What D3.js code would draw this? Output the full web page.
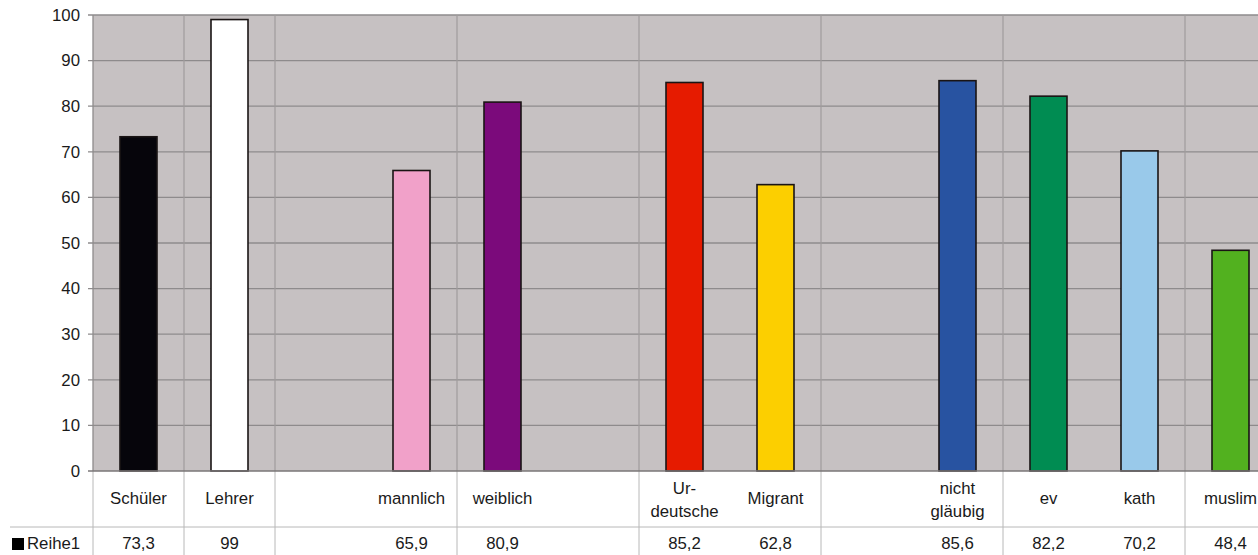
<!DOCTYPE html>
<html>
<head>
<meta charset="utf-8">
<script src="https://cdn.jsdelivr.net/npm/d3@7"></script>
<style>
html,body{margin:0;padding:0;background:#fff;overflow:hidden;}
svg{display:block;font-family:"Liberation Sans",Arial,sans-serif;}
</style>
</head>
<body>
<svg id="chart" width="1258" height="555"></svg>
<script>
// ---- data ----
const categories = ["Schüler","Lehrer","gap1","mannlich","weiblich","gap2","Ur-deutsche","Migrant","gap3","nicht gläubig","ev","kath","muslim"];
const labelLines = [["Schüler"],["Lehrer"],[],["mannlich"],["weiblich"],[],["Ur-","deutsche"],["Migrant"],[],["nicht","gläubig"],["ev"],["kath"],["muslim"]];
const values = [73.3, 99, null, 65.9, 80.9, null, 85.2, 62.8, null, 85.6, 82.2, 70.2, 48.4];
const valueLabels = ["73,3","99","","65,9","80,9","","85,2","62,8","","85,6","82,2","70,2","48,4"];
const barColors = ["#06050b","#ffffff",null,"#f1a1c9","#7b0a7b",null,"#e61b00","#fccf00",null,"#2853a1","#008c52","#99c9ea","#52b11f"];
const dividerIndex = [0, 1, 2, 4, 6, 8, 10, 12]; // category boundaries carrying vertical lines
const yTicks = [0,10,20,30,40,50,60,70,80,90,100];
const seriesName = "Reihe1";

// ---- layout ----
const svg = d3.select("#chart");
const pLeft = 93, pRight = 93 + 13 * 91, pTop = 15, pBottom = 471;
const tableMid = 527, tableBottom = 555;
const fs = 16.8, tc = "#1a1a1a";

const x = d3.scaleBand().domain(categories).range([pLeft, pRight]).paddingInner(0).paddingOuter(0);
const y = d3.scaleLinear().domain([0, 100]).range([pBottom, pTop]);
const barW = 37;

// plot background
svg.append("rect").attr("x", pLeft).attr("y", pTop).attr("width", pRight - pLeft).attr("height", pBottom - pTop).attr("fill", "#c6c1c2");

// horizontal gridlines
svg.append("g").selectAll("line").data(yTicks.filter(d => d > 0)).join("line")
  .attr("x1", pLeft - 5).attr("x2", pRight).attr("y1", d => y(d)).attr("y2", d => y(d))
  .attr("stroke", "#8e8b8c").attr("stroke-width", 1.3);

// vertical gridlines + table dividers
const bx = i => i < categories.length ? x(categories[i]) : pRight;
svg.append("g").selectAll("line").data(dividerIndex).join("line")
  .attr("x1", d => bx(d)).attr("x2", d => bx(d)).attr("y1", pTop).attr("y2", pBottom)
  .attr("stroke", d => d === 0 ? "#8e8b8c" : "#a09c9d").attr("stroke-width", d => d === 0 ? 1.3 : 1.2);
svg.append("g").selectAll("line").data(dividerIndex).join("line")
  .attr("x1", d => bx(d)).attr("x2", d => bx(d)).attr("y1", pBottom).attr("y2", tableBottom)
  .attr("stroke", "#b8b8b8").attr("stroke-width", 1);

// table horizontal line
svg.append("line").attr("x1", 10).attr("x2", 1258).attr("y1", tableMid).attr("y2", tableMid)
  .attr("stroke", "#b8b8b8").attr("stroke-width", 1);

// bars
const data = categories.map((c, i) => ({c, v: values[i], col: barColors[i]})).filter(d => d.v != null);
svg.append("g").selectAll("rect").data(data).join("rect")
  .attr("x", d => x(d.c) + x.bandwidth() / 2 - barW / 2)
  .attr("width", barW)
  .attr("y", d => y(d.v))
  .attr("height", d => y(0) - y(d.v))
  .attr("fill", d => d.col)
  .attr("stroke", "#1a1414").attr("stroke-width", 1.6);

// x axis line at 0
svg.append("line").attr("x1", pLeft - 5).attr("x2", pRight).attr("y1", pBottom).attr("y2", pBottom)
  .attr("stroke", "#7a7677").attr("stroke-width", 1.5);

// y axis labels
const yAxis = d3.axisLeft(y).tickValues(yTicks).tickSize(0).tickPadding(13);
const ya = svg.append("g").attr("transform", `translate(${pLeft},0)`).call(yAxis);
ya.select(".domain").remove();
ya.selectAll("text").attr("font-size", fs).attr("fill", tc).attr("font-family", "Liberation Sans, Arial, sans-serif");

// category labels in table
const lab = svg.append("g");
categories.forEach((c, i) => {
  const lines = labelLines[i];
  const cx = x(c) + x.bandwidth() / 2;
  if (lines.length === 1) {
    lab.append("text").attr("x", cx).attr("y", 504).attr("text-anchor", "middle")
      .attr("font-size", fs).attr("fill", tc).text(lines[0]);
  } else if (lines.length === 2) {
    lines.forEach((t, k) => lab.append("text").attr("x", cx).attr("y", 494 + k * 23).attr("text-anchor", "middle")
      .attr("font-size", fs).attr("fill", tc).text(t));
  }
  if (valueLabels[i]) {
    lab.append("text").attr("x", cx).attr("y", 549).attr("text-anchor", "middle")
      .attr("font-size", fs).attr("fill", tc).text(valueLabels[i]);
  }
});

// legend key
svg.append("rect").attr("x", 12).attr("y", 538).attr("width", 12).attr("height", 12).attr("fill", "#000");
svg.append("text").attr("x", 27).attr("y", 549).attr("font-size", fs).attr("fill", tc).text(seriesName);
</script>
</body>
</html>
